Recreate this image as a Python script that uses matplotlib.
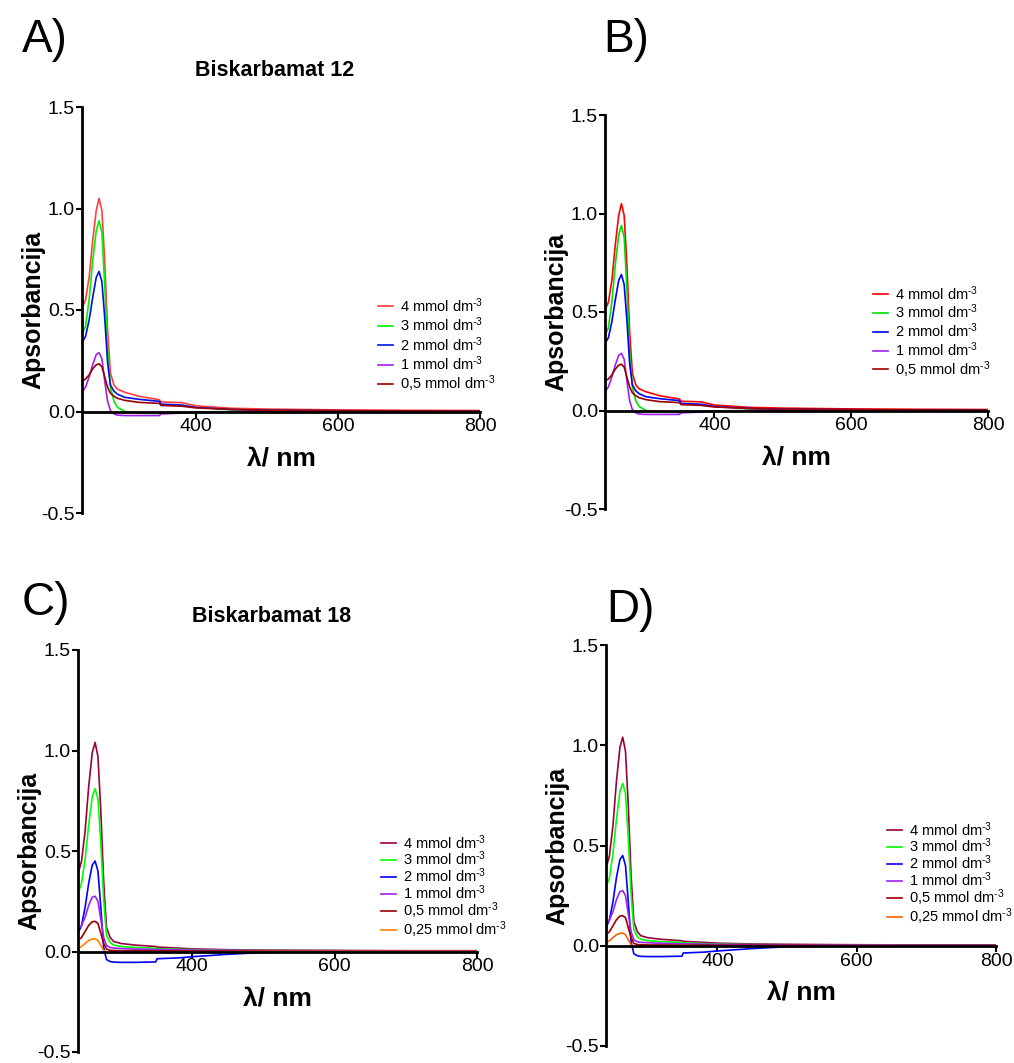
import matplotlib
matplotlib.use("Agg")
import matplotlib.pyplot as plt
from matplotlib.ticker import FormatStrFormatter

plt.rcParams['font.family'] = ['Liberation Sans', 'DejaVu Sans']
plt.rcParams['mathtext.default'] = 'regular'
plt.rcParams['axes.unicode_minus'] = False

# wavelength grid (nm)
wl = [240, 245, 250, 255, 260, 264, 268, 272, 276, 280, 285, 290, 300, 320,
      349, 351, 380, 400, 450, 500, 600, 700, 800]

# Biskarbamat 12
b12_4 = [0.51, 0.55, 0.66, 0.84, 0.99, 1.05, 0.99, 0.74, 0.40, 0.19, 0.13, 0.11,
         0.095, 0.075, 0.058, 0.047, 0.044, 0.028, 0.016, 0.012, 0.008, 0.006, 0.005]
b12_3 = [0.38, 0.42, 0.55, 0.74, 0.89, 0.94, 0.88, 0.62, 0.30, 0.12, 0.05, 0.02,
         0.0, -0.008, -0.01, -0.006, -0.004, -0.002, 0.0, 0.001, 0.001, 0.001, 0.001]
b12_2 = [0.34, 0.37, 0.45, 0.56, 0.66, 0.69, 0.64, 0.46, 0.24, 0.13, 0.10, 0.085,
         0.07, 0.06, 0.05, 0.036, 0.032, 0.02, 0.01, 0.006, 0.004, 0.003, 0.002]
b12_1 = [0.095, 0.12, 0.17, 0.23, 0.28, 0.29, 0.26, 0.15, 0.05, 0.005, -0.012, -0.018,
         -0.02, -0.02, -0.02, -0.012, -0.008, -0.004, -0.001, 0.0, 0.0, 0.0, 0.0]
b12_05 = [0.15, 0.16, 0.18, 0.21, 0.23, 0.235, 0.22, 0.17, 0.12, 0.09, 0.075, 0.065,
          0.055, 0.045, 0.04, 0.03, 0.026, 0.018, 0.01, 0.006, 0.004, 0.003, 0.002]

# Biskarbamat 18
b18_4 = [0.385, 0.45, 0.60, 0.82, 0.99, 1.04, 0.97, 0.70, 0.35, 0.12, 0.07, 0.05,
         0.04, 0.032, 0.025, 0.022, 0.017, 0.013, 0.009, 0.007, 0.005, 0.004, 0.004]
b18_3 = [0.29, 0.34, 0.46, 0.63, 0.77, 0.81, 0.76, 0.54, 0.26, 0.08, 0.045, 0.032,
         0.025, 0.02, 0.017, 0.014, 0.011, 0.009, 0.006, 0.005, 0.004, 0.003, 0.003]
b18_2 = [0.09, 0.13, 0.22, 0.34, 0.43, 0.45, 0.40, 0.22, 0.02, -0.04, -0.05, -0.053,
         -0.054, -0.054, -0.052, -0.036, -0.032, -0.026, -0.014, -0.005, 0.0, 0.001, 0.001]
b18_1 = [0.11, 0.13, 0.17, 0.23, 0.27, 0.275, 0.25, 0.16, 0.07, 0.03, 0.02, 0.017,
         0.015, 0.012, 0.01, 0.01, 0.008, 0.007, 0.006, 0.005, 0.004, 0.003, 0.003]
b18_05 = [0.055, 0.07, 0.10, 0.13, 0.148, 0.15, 0.14, 0.09, 0.04, 0.012, 0.006, 0.005,
          0.004, 0.004, 0.003, 0.003, 0.003, 0.002, 0.002, 0.002, 0.001, 0.001, 0.001]
b18_025 = [0.015, 0.025, 0.04, 0.055, 0.062, 0.063, 0.055, 0.03, 0.005, -0.004, -0.005, -0.005,
           -0.004, -0.004, -0.004, -0.003, -0.003, -0.002, -0.001, 0.0, 0.0, 0.0, 0.0]

# superscript with a plain hyphen like the original (U+2010)
sup = 'dm$^{\u20103}$'
labels12 = ['4 mmol ' + sup, '3 mmol ' + sup, '2 mmol ' + sup,
            '1 mmol ' + sup, '0,5 mmol ' + sup]
labels18 = labels12 + ['0,25 mmol ' + sup]

series12 = [b12_4, b12_3, b12_2, b12_1, b12_05]
series18 = [b18_4, b18_3, b18_2, b18_1, b18_05, b18_025]

colors_a = ['#ff4040', '#00f000', '#0010e0', '#a020e0', '#990000']
colors_b = ['#ff0000', '#00e000', '#0000ff', '#a020f0', '#990000']
colors_c = ['#990040', '#00ff00', '#0000ff', '#a020f0', '#990000', '#ff8000']
colors_d = ['#990040', '#00ff00', '#0000ff', '#a020f0', '#990000', '#ff6000']

W, H = 1014, 1063
fig = plt.figure(figsize=(W / 100, H / 100), dpi=100)


def px_axes(left, right, top, bottom):
    return fig.add_axes([left / W, 1 - bottom / H, (right - left) / W, (bottom - top) / H])


def setup(ax):
    ax.set_xlim(240, 800)
    ax.set_ylim(-0.5, 1.5)
    for s in ['top', 'right']:
        ax.spines[s].set_visible(False)
    ax.spines['bottom'].set_position(('data', 0))
    ax.spines['left'].set_linewidth(2)
    ax.spines['bottom'].set_linewidth(2)
    ax.set_xticks([400, 600, 800])
    ax.set_yticks([-0.5, 0, 0.5, 1.0, 1.5])
    ax.yaxis.set_major_formatter(FormatStrFormatter('%.1f'))
    ax.tick_params(direction='out', length=4, width=1.5, labelsize=14, pad=1)
    ax.set_ylabel('Apsorbancija', fontsize=18, fontweight='bold', labelpad=-3)
    ax.set_xlabel('λ/ nm', fontsize=19, fontweight='bold', labelpad=8)


def draw(ax, series, labels, colors, leg_x, leg_y, spacing):
    for y, lab, c in zip(series, labels, colors):
        ax.plot(wl, y, color=c, lw=1.2, label=lab)
    setup(ax)
    ax.legend(loc='upper left', bbox_to_anchor=(leg_x / W, 1 - leg_y / H),
              bbox_transform=fig.transFigure, frameon=False, fontsize=10.5,
              handlelength=1.0, handletextpad=0.5, borderpad=0,
              borderaxespad=0, labelspacing=spacing)


axA = px_axes(82, 480, 107, 513)
draw(axA, series12, labels12, colors_a, 378, 296, 0.06)
axB = px_axes(605, 988, 115, 509)
draw(axB, series12, labels12, colors_b, 873, 284, 0.01)
axC = px_axes(78, 477, 650, 1052)
draw(axC, series18, labels18, colors_c, 381, 833, -0.12)
axD = px_axes(606, 996, 645, 1046)
draw(axD, series18, labels18, colors_d, 887, 820, -0.12)

fig.text(22 / W, 1 - 40 / H, 'A)', fontsize=33, va='center', ha='left')
fig.text(603 / W, 1 - 40 / H, 'B)', fontsize=33, va='center', ha='left')
fig.text(22 / W, 1 - 603 / H, 'C)', fontsize=33, va='center', ha='left')
fig.text(606 / W, 1 - 610 / H, 'D)', fontsize=33, va='center', ha='left')
fig.text(275 / W, 1 - 70 / H, 'Biskarbamat 12', fontsize=15.5, fontweight='bold',
         ha='center', va='center')
fig.text(272 / W, 1 - 617 / H, 'Biskarbamat 18', fontsize=15.5, fontweight='bold',
         ha='center', va='center')

fig.savefig('out.png', dpi=100)
